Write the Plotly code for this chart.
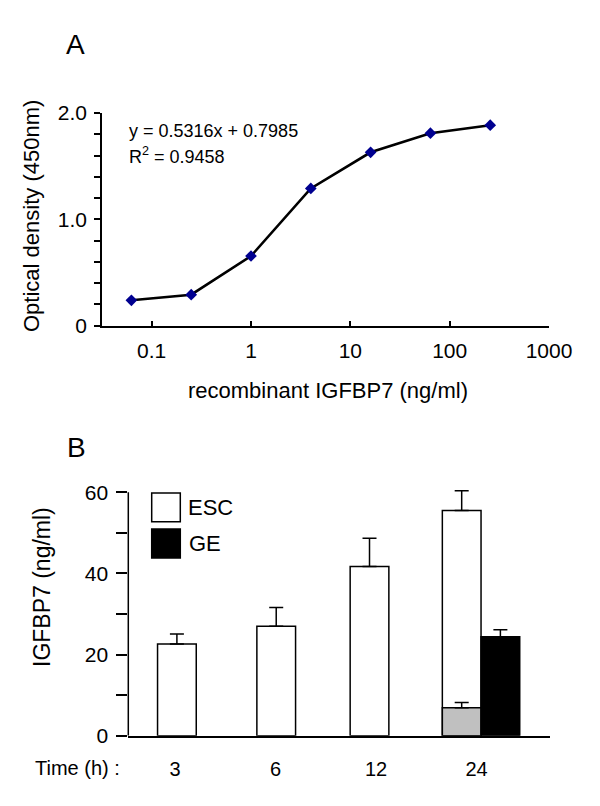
import plotly.graph_objects as go

# ---- Panel A data ----
conc = [0.0625, 0.25, 1, 4, 16, 64, 256]
od = [0.237, 0.29, 0.654, 1.29, 1.63, 1.81, 1.885]
a_xtick_vals = [0.1, 1, 10, 100, 1000]
a_xtick_text = ["0.1", "1", "10", "100", "1000"]
a_ytick_vals = [0, 1.0, 2.0]
a_ytick_text = ["0", "1.0", "2.0"]

# ---- Panel B data ----
times = ["3", "6", "12", "24"]
esc_vals = [22.6, 27.0, 41.7, 55.5]
esc_err = [2.5, 4.6, 7.0, 4.9]
ge_times = ["24"]
ge_vals = [24.4]
ge_err = [1.7]
ctrl_times = ["24"]
ctrl_vals = [6.9]
ctrl_err = [1.3]
b_ytick_vals = [0, 20, 40, 60]
b_ytick_text = ["0", "20", "40", "60"]
B_YMAX = 60

# page body has an 8px margin; work in window pixels
OFF = 8
W, H = 600 - OFF, 806 - OFF
def fx(px):
    return (px - OFF) / W
def fy(py):
    return 1 - (py - OFF) / H

FONT = "Liberation Sans, Arial, sans-serif"
BW = 0.385
# bar left-edge offsets (category units) per time point
ESC_OFFSETS = [-0.174, -0.186, -0.258, -0.341]
PAIR_OFFSET = ESC_OFFSETS[3] + BW

# panel B plot area: y=0 at 735.7px, 60 at 492.3px; extra headroom so error caps aren't clipped
PX_PER_UNIT = (735.7 - 492.3) / 60
HEAD = 3  # data units of headroom above 60
b_top_px = 492.3 - HEAD * PX_PER_UNIT

fig = go.Figure()

fig.add_trace(go.Scatter(
    x=conc, y=od, mode="lines+markers",
    line=dict(color="black", width=2.6),
    marker=dict(symbol="diamond", size=9, color="#000090"),
    xaxis="x", yaxis="y", showlegend=False))

fig.add_trace(go.Bar(
    x=times, y=esc_vals, name="ESC", width=BW, offset=ESC_OFFSETS,
    marker=dict(color="white", line=dict(color="black", width=1.5)),
    error_y=dict(type="data", array=esc_err, arrayminus=[0] * len(esc_err),
                 symmetric=False, color="black", thickness=1.5, width=7),
    xaxis="x2", yaxis="y2", showlegend=False))
fig.add_trace(go.Bar(
    x=ctrl_times, y=ctrl_vals, name="control", width=BW, offset=ESC_OFFSETS[3],
    marker=dict(color="#c0c0c0", line=dict(color="black", width=1.5)),
    error_y=dict(type="data", array=ctrl_err, arrayminus=[0],
                 symmetric=False, color="black", thickness=1.5, width=7),
    xaxis="x2", yaxis="y2", showlegend=False))
fig.add_trace(go.Bar(
    x=ge_times, y=ge_vals, name="GE", width=BW, offset=PAIR_OFFSET,
    marker=dict(color="black", line=dict(color="black", width=1.5)),
    error_y=dict(type="data", array=ge_err, arrayminus=[0],
                 symmetric=False, color="black", thickness=1.5, width=7),
    xaxis="x2", yaxis="y2", showlegend=False))

tickA = dict(family=FONT, size=21, color="black")
tickB = dict(family=FONT, size=21, color="black")

fig.update_layout(
    width=W, height=H,
    margin=dict(l=0, r=0, t=0, b=0),
    paper_bgcolor="white", plot_bgcolor="white",
    barmode="overlay",
    font=dict(family=FONT, color="black"),
    xaxis=dict(type="log", domain=[fx(102), fx(549)], range=[-1.5, 3],
               tickvals=a_xtick_vals, ticktext=a_xtick_text,
               ticks="inside", ticklen=5, tickwidth=1.5, tickcolor="black",
               showline=True, linecolor="black", linewidth=1.5,
               showgrid=False, zeroline=False, tickfont=tickA,
               ticklabelstandoff=6, anchor="y", automargin=False),
    yaxis=dict(domain=[fy(325.5), fy(113)], range=[0, 2.0],
               tickvals=a_ytick_vals, ticktext=a_ytick_text,
               ticks="outside", ticklen=6, tickwidth=1.5, tickcolor="black",
               minor=dict(dtick=0.2, ticks="outside", ticklen=6,
                          tickwidth=1.5, tickcolor="black", showgrid=False),
               showline=True, linecolor="black", linewidth=1.5,
               showgrid=False, zeroline=False, tickfont=tickA,
               ticklabelstandoff=3, anchor="x", automargin=False),
    xaxis2=dict(type="category", domain=[fx(128.3), fx(550)],
                range=[-0.465, 3.73], categoryorder="array", categoryarray=times,
                ticks="", showline=True, linecolor="black", linewidth=1.5,
                showgrid=False, zeroline=False, tickfont=dict(family=FONT, size=20, color="black"),
                ticklabelstandoff=15, anchor="y2", automargin=False),
    yaxis2=dict(domain=[fy(735.7), fy(b_top_px)], range=[0, B_YMAX + HEAD],
                tickvals=b_ytick_vals, ticktext=b_ytick_text,
                ticks="outside", ticklen=11, tickwidth=1.5, tickcolor="black",
                minor=dict(tick0=0, dtick=10, ticks="outside", ticklen=11,
                           tickwidth=1.5, tickcolor="black", showgrid=False),
                showline=False,
                showgrid=False, zeroline=False, tickfont=tickB,
                ticklabelstandoff=4, anchor="x2", automargin=False),
)

ann = []
def A(text, x, y, size=19, xanchor="center", textangle=0):
    ann.append(dict(text=text, x=fx(x), y=fy(y), xref="paper", yref="paper",
                    xanchor=xanchor, yanchor="middle", showarrow=False,
                    textangle=textangle,
                    font=dict(family=FONT, size=size, color="black")))

A("A", 75, 45, size=28)
A("B", 76, 447, size=28)
A("Optical density (450nm)", 31, 216, size=22, textangle=-90)
A("recombinant IGFBP7 (ng/ml)", 328, 390, size=22)
A("y = 0.5316x + 0.7985", 127, 131, size=18, xanchor="left")
A("R<sup>2</sup> = 0.9458", 127, 155, size=18, xanchor="left")
A("IGFBP7 (ng/ml)", 42, 587, size=23, textangle=-90)
A("Time (h) :", 33, 768, size=20, xanchor="left")
A("ESC", 186, 507, size=22, xanchor="left")
A("GE", 187, 543.5, size=22, xanchor="left")
fig.update_layout(annotations=ann)

shapes = [
    # left axis line of panel B, from 0 to 60 only
    dict(type="line", xref="x2 domain", yref="y2", x0=0, x1=0, y0=0, y1=B_YMAX,
         line=dict(color="black", width=1.5)),
    dict(type="rect", xref="paper", yref="paper",
         x0=fx(151.7), x1=fx(180.3), y0=fy(521.7), y1=fy(493),
         fillcolor="white", line=dict(color="black", width=1.5)),
    dict(type="rect", xref="paper", yref="paper",
         x0=fx(151.7), x1=fx(180.3), y0=fy(558), y1=fy(529),
         fillcolor="black", line=dict(color="black", width=1.5)),
]
fig.update_layout(shapes=shapes)

fig.write_html("out.html")
